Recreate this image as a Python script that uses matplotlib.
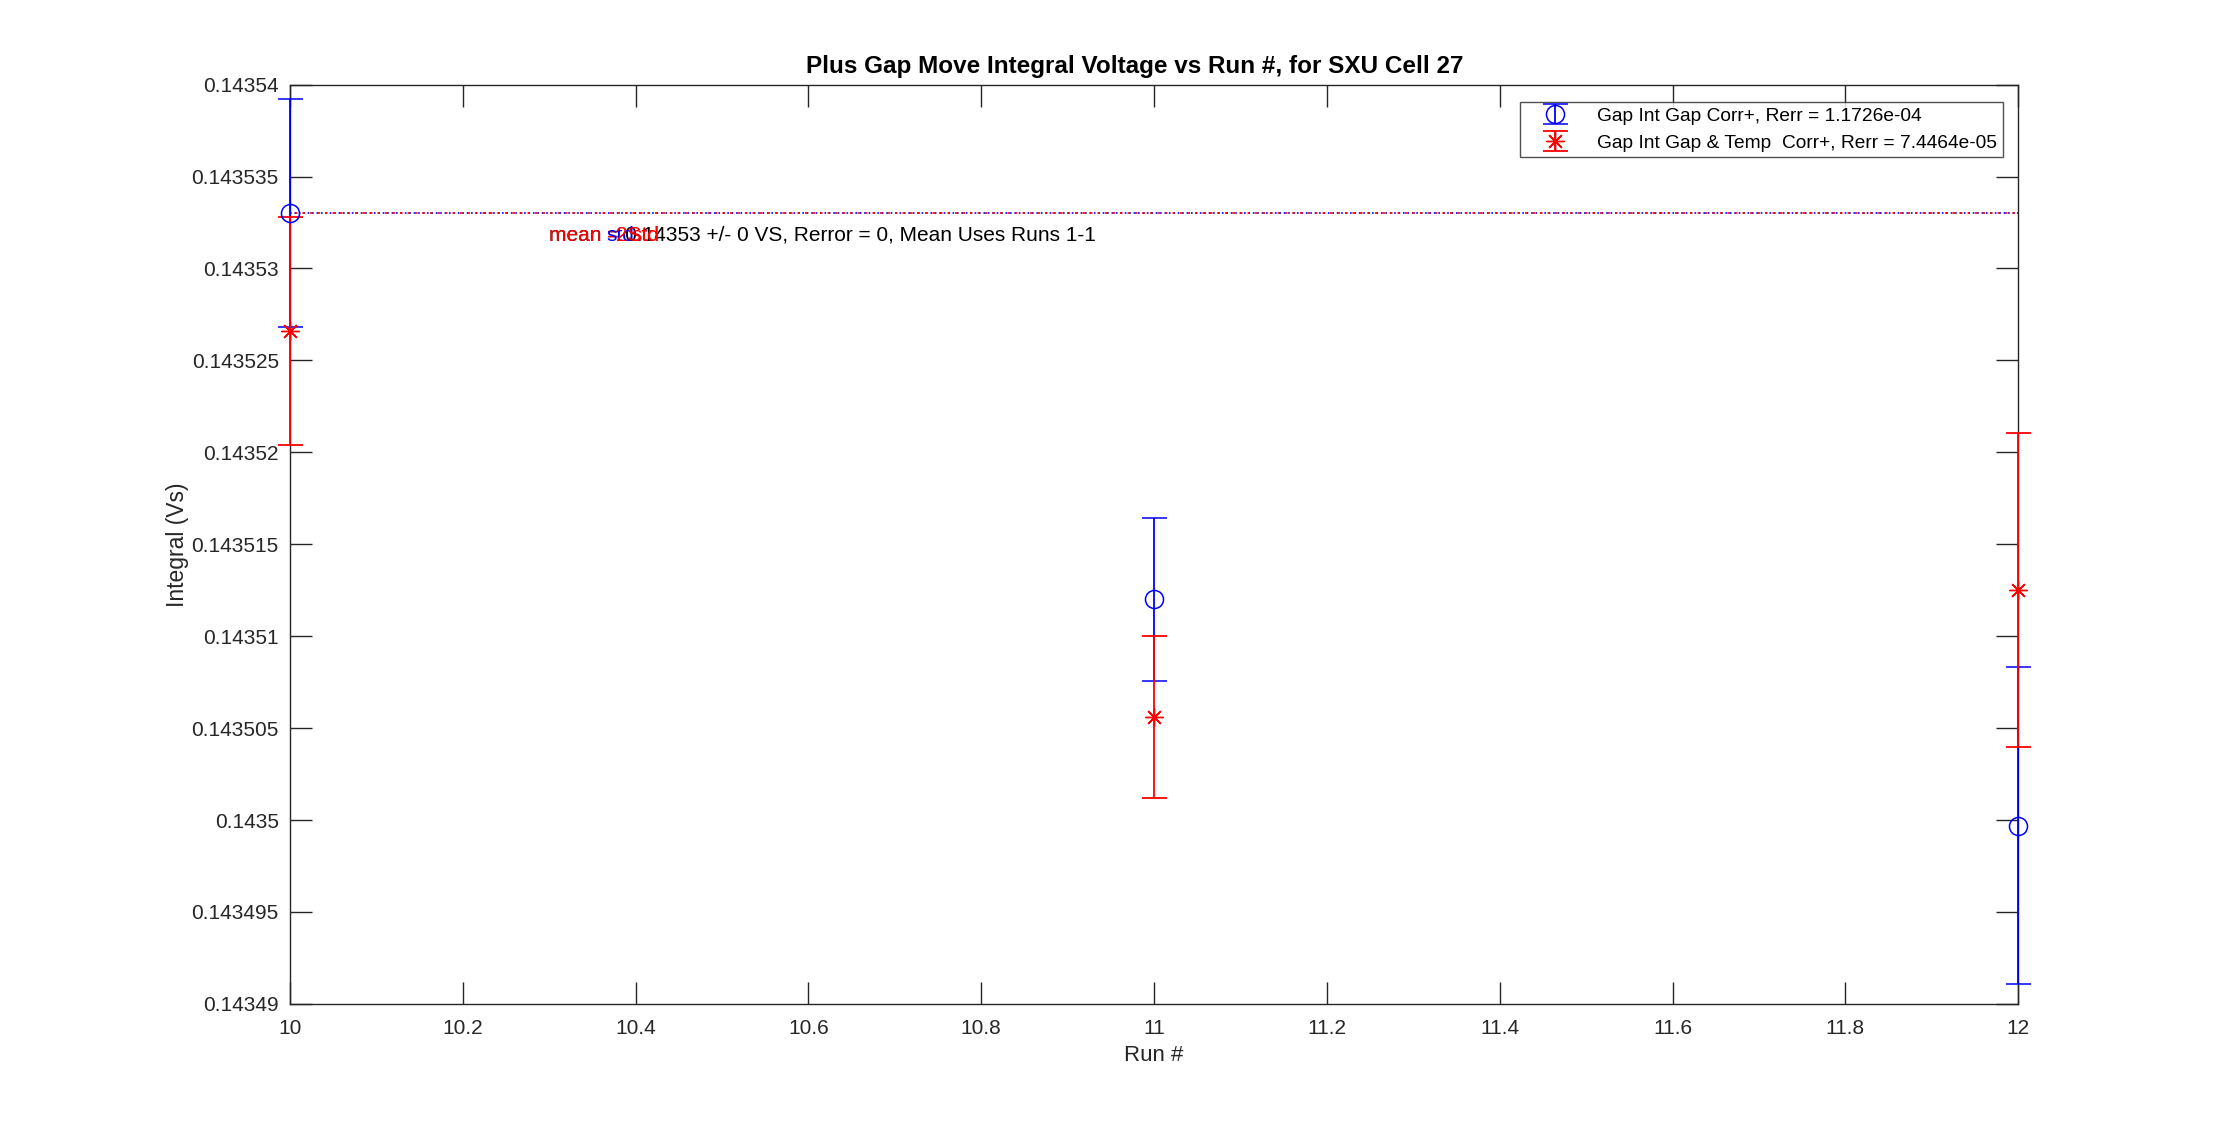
#!/usr/bin/env python3
"""Plus gap move integral voltage vs run number, SXU cell 27."""

import matplotlib
matplotlib.use("Agg")
import matplotlib.pyplot as plt
from matplotlib.legend_handler import HandlerTuple
from matplotlib.ticker import FixedLocator, FuncFormatter

plt.rcParams["font.family"] = ["Liberation Sans", "DejaVu Sans"]

# --- data ---
runs = [10, 11, 12]
gap_corr = [0.1435330, 0.1435120, 0.1434997]        # blue, circles
gap_corr_err = [6.2e-6, 4.42e-6, 8.6e-6]
gap_temp_corr = [0.1435266, 0.1435056, 0.1435125]   # red, stars
gap_temp_corr_err = [6.2e-6, 4.40e-6, 8.55e-6]
mean_val = 0.143533
mean_runs = [10, 12]

x_ticks = [10, 10.2, 10.4, 10.6, 10.8, 11, 11.2, 11.4, 11.6, 11.8, 12]
y_ticks = [0.14349, 0.143495, 0.1435, 0.143505, 0.14351, 0.143515,
           0.14352, 0.143525, 0.14353, 0.143535, 0.14354]

label_blue = "Gap Int Gap Corr+, Rerr = 1.1726e-04"
label_red = "Gap Int Gap & Temp  Corr+, Rerr = 7.4464e-05"
mean_text = "mean = 0.14353 +/- 0 VS, Rerror = 0, Mean Uses Runs 1-1"

fig = plt.figure(figsize=(22.30, 11.28), dpi=100)
ax = fig.add_axes([0.13, 0.11, 0.775, 0.815])

axcol = (0.15, 0.15, 0.15)
star = (8, 2, 0)   # MATLAB-like asterisk

eb_blue = ax.errorbar(runs, gap_corr, yerr=gap_corr_err, fmt="o", color="blue",
                      mfc="none", ms=13, mew=1.1, elinewidth=1.3, capsize=9,
                      capthick=1.3, label=label_blue, clip_on=False, zorder=3)
eb_red = ax.errorbar(runs, gap_temp_corr, yerr=gap_temp_corr_err, fmt="none",
                     ecolor="red", elinewidth=1.3, capsize=9,
                     capthick=1.3, label=label_red, clip_on=False, zorder=3)
red_pts, = ax.plot(runs, gap_temp_corr, ls="none", marker=star, ms=13, mew=1.0,
                   color="red", clip_on=False, zorder=4)
for art in (eb_blue, eb_red):
    for ln in art.lines[1] + art.lines[2]:
        ln.set_clip_on(False)

# mean lines (blue and red drawn on top of each other)
ax.plot(mean_runs, [mean_val, mean_val], ls=":", color="blue", lw=1.2, zorder=2)
ax.plot(mean_runs, [mean_val, mean_val], ls=(1.5, (1.5, 3)), color="red", lw=1.2,
        zorder=2)

# overlapping annotation texts
ty = 0.1435318
ax.text(10.30, ty, mean_text, color="black", fontsize=15, va="center", ha="left")
ax.text(10.30, ty, "mean = ", color="red", fontsize=15, va="center", ha="left")
ax.text(10.366, ty, "std", color="blue", fontsize=15, va="center", ha="left")
ax.text(10.377, ty, "2Std", color="red", fontsize=15, va="center", ha="left")
ax.text(10.395, ty, "std", color="red", fontsize=15, va="center", ha="left")

ax.set_xlim(10, 12)
ax.set_ylim(0.14349, 0.14354)
ax.xaxis.set_major_locator(FixedLocator(x_ticks))
ax.yaxis.set_major_locator(FixedLocator(y_ticks))
ax.xaxis.set_major_formatter(FuncFormatter(lambda v, p: f"{v:g}"))
ax.yaxis.set_major_formatter(FuncFormatter(lambda v, p: f"{v:g}"))
ax.tick_params(direction="in", length=16, width=1.0, colors=axcol,
               labelsize=15, top=True, right=True, pad=8)
ax.tick_params(axis="x", pad=11)
for sp in ax.spines.values():
    sp.set_color(axcol)
    sp.set_linewidth(1.0)

ax.set_xlabel("Run #", fontsize=16, color=axcol, labelpad=5)
ax.set_ylabel("Integral (Vs)", fontsize=16.5, color=axcol, labelpad=2)
ax.set_title("Plus Gap Move Integral Voltage vs Run #, for SXU Cell 27",
             fontsize=17.5, fontweight="bold", color="black", pad=8, x=0.489)

leg = ax.legend(handles=[eb_blue, (eb_red, red_pts)], labels=[label_blue, label_red],
                handler_map={tuple: HandlerTuple(ndivide=1)},
                loc="upper right", bbox_to_anchor=(0.9965, 0.992), fontsize=13.8,
                frameon=True, fancybox=False, edgecolor=axcol, borderpad=0.3,
                handlelength=3.0, handletextpad=0.7, labelspacing=0.5)
leg.get_frame().set_linewidth(1.0)

fig.savefig("out.png", dpi=100)
